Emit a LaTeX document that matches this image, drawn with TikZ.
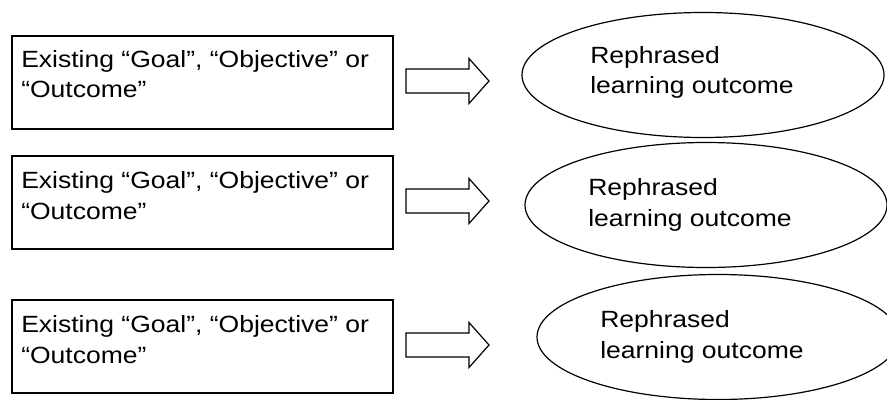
\documentclass[tikz,border=0pt]{standalone}
\usepackage{fontspec}
\setmainfont{Liberation Sans}[FakeStretch=1.13]
\usetikzlibrary{shapes.geometric,calc}
\tikzset{
  srcbox/.style={draw, line width=1.4pt, rectangle, minimum width=381*0.75pt, minimum height=93*0.75pt, inner sep=0pt, anchor=north west},
  boxtext/.style={anchor=base west, align=left, inner sep=0pt, font=\fontsize{17.6pt}{23pt}\selectfont},
  outell/.style={draw, line width=0.9pt, ellipse, minimum width=362*0.75pt, minimum height=125*0.75pt, inner sep=0pt},
  fatarrow/.style={draw, line width=0.9pt, line join=miter},
}
\begin{document}
\begin{tikzpicture}[x=0.75pt, y=-0.75pt]
\useasboundingbox (0,0) rectangle (887,399);
\clip (0,0) rectangle (887,399);
% boxes
\node[srcbox] (b1) at (11,35) {};
\node[srcbox] (b2) at (11,155) {};
\node[srcbox] (b3) at (11,299) {};
% (base anchor of a two-line node is the baseline of its last line)
\node[boxtext] (t1) at ($(b1.north west)+(10,63)$) {Existing “Goal”, “Objective” or\\“Outcome”};
\node[boxtext] (t2) at ($(b2.north west)+(10,64)$) {Existing “Goal”, “Objective” or\\“Outcome”};
\node[boxtext] (t3) at ($(b3.north west)+(10,64)$) {Existing “Goal”, “Objective” or\\“Outcome”};
% ellipses
\node[outell] (e1) at (703,75) {};
\node[outell] (e2) at (706,205) {};
\node[outell] (e3) at (718,337) {};
\node[boxtext] (r1) at (590,94) {Rephrased\\learning outcome};
\node[boxtext] (r2) at (588,226) {Rephrased\\learning outcome};
\node[boxtext] (r3) at (600,358) {Rephrased\\learning outcome};
% block arrows
\coordinate (a1) at (406,81);
\coordinate (a2) at (406,201);
\coordinate (a3) at (406,345);
\foreach \a in {a1,a2,a3}{
  \draw[fatarrow] ($(\a)+(0,-12)$) -- ++(63,0) -- ++(0,-10.5) -- ($(\a)+(83,0)$) -- ($(\a)+(63,22.5)$) -- ++(0,-10.5) -- ($(\a)+(0,12)$) -- cycle;
}
\end{tikzpicture}
\end{document}
